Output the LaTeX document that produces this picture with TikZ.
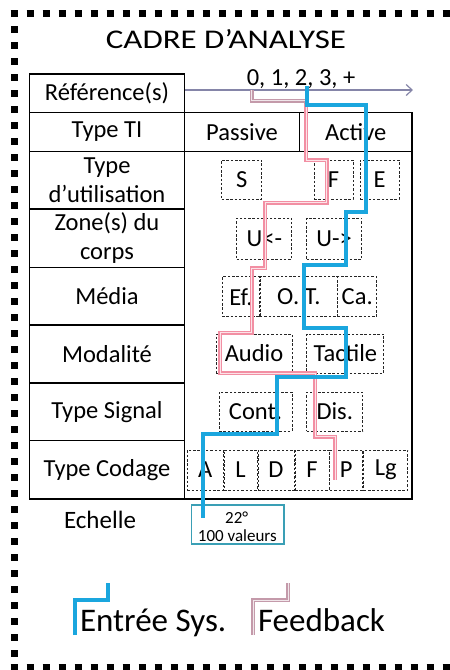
\documentclass[tikz,border=0pt]{standalone}
\usepackage{fontspec}
\setmainfont{Carlito}
\usetikzlibrary{arrows.meta}
\definecolor{bluepath}{HTML}{1AA6DE}
\definecolor{pinkpath}{HTML}{F28FA3}
\definecolor{mauvepath}{HTML}{C49AAA}
\definecolor{refarrow}{HTML}{8585A8}
\definecolor{scalebox}{HTML}{3A9FB5}
\begin{document}
\begin{tikzpicture}[x=1pt,y=-1pt,
  every node/.style={inner sep=0pt, outer sep=0pt},
  maintext/.style={font=\fontsize{24.5}{29}\selectfont},
  cell/.style={draw=black, line width=1.8pt, maintext, align=center, minimum width=155pt},
  ticell/.style={draw=black, line width=1.8pt, maintext, align=center, minimum height=39pt},
  dbox/.style={draw=black!85, line width=1pt, dash pattern=on 2.5pt off 1.8pt, maintext, minimum height=39pt},
  bluetrace/.style={draw=bluepath, line width=4pt, line join=miter},
  pinktrace/.style={draw=pinkpath, line width=1.4pt, double=pinkpath!25, double distance=1pt, line join=miter},
  mauvetrace/.style={draw=mauvepath, line width=1.4pt, double=mauvepath!25, double distance=1pt, line join=miter},
  frame/.style={line width=7pt, dash pattern=on 7pt off 9pt}
]
\useasboundingbox (0,0) rectangle (450,670);
% dotted frame
\draw[frame] (10.5,13.5) -- (470,13.5);
\draw[frame] (14,10) -- (14,675);
\draw[frame] (10.5,667) -- (470,667);
% title
\node[anchor=base, font=\fontsize{27}{31}\selectfont] (title) at (226,48.3) {\scalebox{1.22}[1]{CADRE D’ANALYSE}};
% label column
\node[cell, minimum height=38.5pt] (lref) at (107,93.25) {Référence(s)};
\node[cell, minimum height=39pt] (lti) at (107,132) {Type TI};
\node[cell, minimum height=57.5pt] (luse) at (107,180.25) {Type\\d’utilisation};
\node[cell, minimum height=58.5pt] (lzone) at (107,238.25) {Zone(s) du\\corps};
\node[cell, minimum height=57.5pt] (lmedia) at (107,296.25) {Média};
\node[cell, minimum height=58pt] (lmod) at (107,354) {Modalité};
\node[cell, minimum height=57.5pt] (lsig) at (107,411.75) {Type Signal};
\node[cell, minimum height=58.5pt] (lcod) at (107,469.75) {Type Codage};
% Type TI
\node[ticell, minimum width=115pt] (passive) at (242,132) {Passive};
\node[ticell, minimum width=112.5pt] (active) at (355.75,132) {Active};
% right region
\node[draw=black, line width=1.8pt, minimum width=227.5pt, minimum height=347.5pt] (region) at (298.25,325.25) {};
% reference arrow
\coordinate (refstart) at (185,90);
\coordinate (refend) at (413,90);
\draw[refarrow, line width=1.2pt, -{Straight Barb[length=6pt,width=11pt,line width=1.2pt]}] (refstart) -- (refend);
\node[anchor=base, maintext] (refvals) at (301,85) {0, 1, 2, 3, +};
% dashed boxes
\node[dbox, minimum width=40pt] (bS) at (241.7,179.5) {S};
\node[dbox, minimum width=39pt] (bF) at (333.5,179.5) {F};
\node[dbox, minimum width=39pt] (bE) at (379.5,179.5) {E};
\node[dbox, minimum width=55.3pt, minimum height=41pt] (bUl) at (264.3,238.5) {U<-};
\node[dbox, minimum width=55pt, minimum height=41pt] (bUr) at (334.2,238.5) {U->};
\node[dbox, minimum width=38pt, minimum height=39.7pt] (bEf) at (241,296.8) {Ef.};
\node[dbox, minimum width=77.7pt, minimum height=39.7pt] (bOT) at (298.8,296.8) {O. T.};
\node[dbox, minimum width=39pt, minimum height=39.7pt] (bCa) at (357.2,296.8) {Ca.};
\node[dbox, minimum width=76pt] (bAudio) at (254,353.5) {Audio};
\node[dbox, minimum width=77.3pt] (bTact) at (345.3,353.5) {Tactile};
\node[dbox, minimum width=73pt] (bCont) at (255.5,411.5) {Cont.};
\node[dbox, minimum width=56.3pt] (bDis) at (334.8,411.5) {Dis.};
\node[dbox, minimum width=35.7pt, minimum height=40pt] (cA) at (205.2,470) {A};
\node[dbox, minimum width=33pt, minimum height=40pt] (cL) at (240.5,470) {L};
\node[dbox, minimum width=36pt, minimum height=40pt] (cD) at (276,470) {D};
\node[dbox, minimum width=34pt, minimum height=40pt] (cF) at (312,470) {F};
\node[dbox, minimum width=32.7pt, minimum height=40pt] (cP) at (346.3,470) {P};
\node[dbox, minimum width=44pt, minimum height=40pt] (cLg) at (385.7,470) {Lg};
% scale
\node[anchor=base, font=\fontsize{25}{30}\selectfont] (echelle) at (100,528.3) {Echelle};
\node[draw=scalebox, line width=1.2pt, minimum width=92.5pt, minimum height=39pt] (scale) at (237.75,524.5) {};
\node[anchor=base, font=\fontsize{17}{20}\selectfont] (deg) at (236.7,523.3) {22°};
\node[anchor=base, font=\fontsize{17}{20}\selectfont] (vals) at (237.3,541.7) {100 valeurs};
% feedback trace
\draw[pinktrace] (306,100.7) -- (306,160) -- (326.7,160) -- (326.7,202.7) -- (265,202.7) -- (265,268)
  -- (251.7,268) -- (251.7,332.7) -- (220,332.7) -- (220,373) -- (315,373) -- (315,436.7)
  -- (335,436.7) -- (335,480);
\draw[mauvetrace] (251.7,90) -- (251.7,100.7) -- (306,100.7) -- (306,104);
% input trace
\draw[bluetrace] (307,86) -- (307,105) -- (366,105) -- (366,212) -- (345.7,212) -- (345.7,265)
  -- (304,265) -- (304,328) -- (345.7,328) -- (345.7,376.7) -- (276.7,376.7) -- (276.7,434)
  -- (202.7,434) -- (202.7,518);
% legend
\draw[bluetrace] (75,635) -- (75,600) -- (108,600) -- (108,583);
\node[anchor=base west, font=\fontsize{33}{38}\selectfont] (legin) at (80,631) {Entrée Sys.};
\draw[mauvetrace] (253,635) -- (253,600) -- (288,600) -- (288,583);
\node[anchor=base west, font=\fontsize{33}{38}\selectfont] (legfb) at (258,631) {Feedback};
\end{tikzpicture}
\end{document}
